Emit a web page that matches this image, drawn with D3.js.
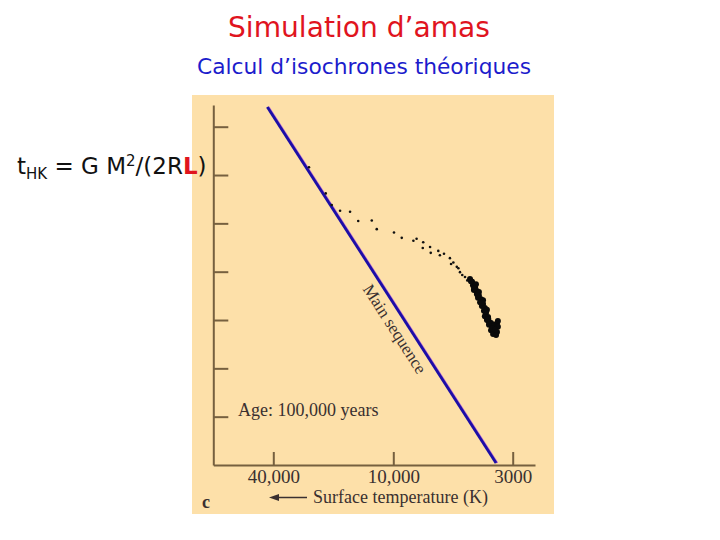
<!DOCTYPE html>
<html lang="fr">
<head>
<meta charset="UTF-8">
<title>Simulation d'amas</title>
<script src="https://d3js.org/d3.v7.min.js"></script>
<style>
    *{padding:0; margin:0; box-sizing:border-box;}
    body{background:#fff; width:720px; height:540px; overflow:hidden;}
    .axis path, .axis line{stroke:#76603f; stroke-width:2;}
    .axis text{font-family:"Liberation Serif", serif; font-size:19px; fill:#3a3030;}
    .lbl{font-family:"Liberation Serif", serif; fill:#3a3030;}
    .slide{font-family:"DejaVu Sans", sans-serif;}
</style>
</head>
<body>
<script>
    // tick temperatures (K) on the x axis
    const tempTicks = [40000, 10000, 3000];
    // log L ticks on the y axis (unlabelled)
    const lumTicks = [-2, -1, 0, 1, 2, 3, 4];

    // zero age main sequence ends: log Teff, log L
    const msLogT = [4.632, 3.550];
    const msLogL = [4.41, -2.96];

    // isolated pre-main-sequence stars
    const starLogT = [4.423, 4.339, 4.309, 4.267, 4.217, 4.176, 4.108, 4.083, 3.997, 3.963,
                      3.912, 3.898, 3.869, 3.871, 3.839, 3.836, 3.803, 3.796, 3.778, 3.752,
                      3.737, 3.747, 3.715, 3.722, 3.708, 3.698, 3.686, 3.676];
    const starLogL = [3.16, 2.62, 2.38, 2.26, 2.24, 2.05, 2.06, 1.88, 1.81, 1.70,
                      1.64, 1.68, 1.61, 1.49, 1.51, 1.39, 1.43, 1.34, 1.37, 1.28,
                      1.19, 1.16, 1.07, 1.10, 0.99, 0.93, 0.89, 0.82];

    // dense clump of low mass stars
    const clumpLogT = [3.664, 3.655, 3.651, 3.642, 3.647, 3.634, 3.634, 3.625, 3.629, 3.616,
                       3.620, 3.607, 3.612, 3.599, 3.603, 3.594, 3.599, 3.585, 3.590, 3.581,
                       3.572, 3.581, 3.568, 3.555, 3.546, 3.542, 3.572, 3.559, 3.546, 3.563,
                       3.550, 3.542, 3.638, 3.625, 3.607, 3.590, 3.660, 3.646, 3.630, 3.612,
                       3.596, 3.584, 3.566, 3.553];
    const clumpLogL = [0.85, 0.79, 0.72, 0.68, 0.62, 0.60, 0.54, 0.50, 0.46, 0.43,
                       0.37, 0.33, 0.29, 0.25, 0.19, 0.15, 0.08, 0.06, 0.00, -0.04,
                       -0.06, -0.10, -0.14, -0.10, -0.07, -0.14, -0.21, -0.23, -0.25, -0.29,
                       -0.31, -0.02, 0.74, 0.58, 0.41, 0.21, 0.80, 0.65, 0.52, 0.35,
                       0.17, 0.02, -0.17, -0.20];

    const svg = d3.select('body').append('svg')
        .attr('width', 720).attr('height', 540);

    // titles
    svg.append('text').attr('class', 'slide')
        .attr('x', 359).attr('y', 37)
        .attr('text-anchor', 'middle')
        .attr('font-size', 29).attr('fill', '#e0141e')
        .attr('textLength', 262).attr('lengthAdjust', 'spacingAndGlyphs')
        .text('Simulation d\u2019amas');
    svg.append('text').attr('class', 'slide')
        .attr('x', 364).attr('y', 74)
        .attr('text-anchor', 'middle')
        .attr('font-size', 21).attr('fill', '#1c1ccc')
        .attr('textLength', 334).attr('lengthAdjust', 'spacingAndGlyphs')
        .text('Calcul d\u2019isochrones th\u00e9oriques');

    // panel
    svg.append('rect')
        .attr('x', 192).attr('y', 95)
        .attr('width', 362).attr('height', 419)
        .attr('fill', '#fde0a9');

    // formula, overlaps the panel edge
    const f = svg.append('text').attr('class', 'slide')
        .attr('x', 17).attr('y', 174)
        .attr('font-size', 23).attr('fill', '#111');
    f.append('tspan').text('t');
    f.append('tspan').attr('font-size', 15).attr('dy', 5).text('HK');
    f.append('tspan').attr('dy', -5).text(' = G M');
    f.append('tspan').attr('font-size', 15).attr('dy', -8).text('2');
    f.append('tspan').attr('dy', 8).text('/(2R');
    f.append('tspan').attr('fill', '#e0141e').attr('font-weight', 'bold').text('L');
    f.append('tspan').text(')');

    // scales: piecewise so the printed ticks sit where the book put them
    let x = d3.scaleLinear()
        .domain([4.903, Math.log10(40000), 4, Math.log10(3000), 3.380])
        .range([213.3, 273.3, 393.3, 512.7, 535]);
    let y = d3.scaleLinear()
        .domain([-3.0, 4.449])
        .range([465, 105]);

    svg.append('g').attr('class', 'axis')
        .attr('transform', 'translate(0,465)')
        .call(d3.axisBottom(x)
            .tickValues(tempTicks.map(t => Math.log10(t)))
            .tickFormat((d, i) => d3.format(i == 2 ? '' : ',')(tempTicks[i]))
            .tickSizeInner(-13).tickSizeOuter(0).tickPadding(5));

    svg.append('g').attr('class', 'axis')
        .attr('transform', 'translate(213.3,0)')
        .call(d3.axisRight(y)
            .tickValues(lumTicks).tickFormat('')
            .tickSize(15).tickSizeOuter(0));

    // main sequence, pink fringe then blue
    const ms = msLogT.map((t, i) => [x(t), y(msLogL[i])]);
    svg.append('path')
        .attr('d', d3.line()(ms))
        .attr('transform', 'translate(1.3,0)')
        .attr('stroke', '#b86ad0').attr('stroke-width', 1.8).attr('fill', 'none');
    svg.append('path')
        .attr('d', d3.line()(ms))
        .attr('stroke', '#1c0ea6').attr('stroke-width', 2.8).attr('fill', 'none');

    // label along the line
    const ang = Math.atan2(ms[1][1] - ms[0][1], ms[1][0] - ms[0][0]) * 180 / Math.PI;
    svg.append('text').attr('class', 'lbl')
        .attr('font-size', 17)
        .attr('text-anchor', 'middle')
        .attr('transform', 'translate(390,332) rotate(' + ang + ')')
        .text('Main sequence');

    // stars
    svg.append('g').selectAll('circle')
        .data(starLogT.map((t, i) => [t, starLogL[i]]))
        .enter().append('circle')
        .attr('cx', d => x(d[0])).attr('cy', d => y(d[1]))
        .attr('r', 1.3).attr('fill', '#111');

    svg.append('g').selectAll('circle')
        .data(clumpLogT.map((t, i) => [t, clumpLogL[i]]))
        .enter().append('circle')
        .attr('cx', d => x(d[0])).attr('cy', d => y(d[1]))
        .attr('r', 3).attr('fill', '#0a0a0a');

    // annotations
    svg.append('text').attr('class', 'lbl')
        .attr('x', 238).attr('y', 416).attr('font-size', 18)
        .text('Age: 100,000 years');

    svg.append('text').attr('class', 'lbl')
        .attr('x', 313).attr('y', 503).attr('font-size', 18)
        .text('Surface temperature (K)');
    svg.append('line')
        .attr('x1', 276).attr('x2', 307).attr('y1', 497.5).attr('y2', 497.5)
        .attr('stroke', '#3a3030').attr('stroke-width', 1.5);
    svg.append('path')
        .attr('d', 'M269,497.5 L279,494 L279,501 Z')
        .attr('fill', '#3a3030');

    svg.append('text').attr('class', 'lbl')
        .attr('x', 202).attr('y', 508).attr('font-size', 18).attr('font-weight', 'bold')
        .text('c');
</script>
</body>
</html>
